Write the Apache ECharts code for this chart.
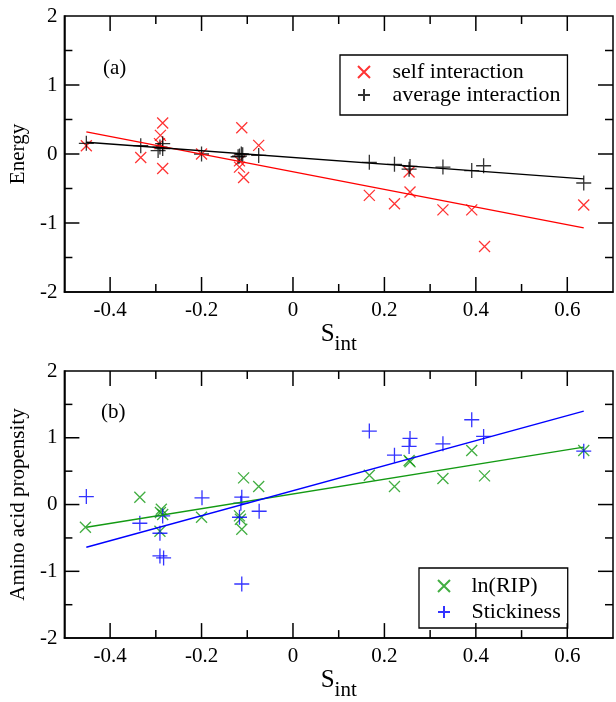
<!DOCTYPE html>
<html>
<head>
<meta charset="utf-8">
<script src="https://cdn.jsdelivr.net/npm/echarts@6/dist/echarts.min.js"></script>
<style>
  html, body { margin: 0; padding: 0; background: #fff; }
  #chart { width: 616px; height: 702px; }
</style>
</head>
<body>
<div id="chart"></div>
<script>
// panel (a): energies vs S_int
const selfX = [-0.452, -0.333, -0.285, -0.290, -0.292, -0.285, -0.200, -0.112, -0.117, -0.117, -0.108, -0.075,
  0.167, 0.222, 0.256, 0.254, 0.328, 0.391, 0.419, 0.636]
const selfY = [0.12, -0.05, 0.45, 0.27, 0.15, -0.21, 0.00, 0.38, -0.10, -0.19, -0.34, 0.125,
  -0.60, -0.72, -0.55, -0.26, -0.81, -0.81, -1.34, -0.74]
const avgX = [-0.452, -0.333, -0.291, -0.285, -0.295, -0.285, -0.200, -0.117, -0.110, -0.113, -0.120, -0.075,
  0.167, 0.222, 0.254, 0.256, 0.328, 0.391, 0.417, 0.636]
const avgY = [0.155, 0.12, 0.10, 0.15, 0.05, 0.08, 0.00, -0.03, -0.01, 0.00, -0.04, -0.02,
  -0.12, -0.15, -0.22, -0.18, -0.19, -0.24, -0.17, -0.42]

// panel (b): propensities vs S_int
const ripX = [-0.454, -0.335, -0.288, -0.285, -0.291, -0.290, -0.200, -0.108, -0.117, -0.112, -0.115, -0.075,
  0.167, 0.222, 0.256, 0.254, 0.328, 0.391, 0.419, 0.636]
const ripY = [-0.34, 0.11, -0.07, -0.15, -0.40, -0.12, -0.19, 0.40, -0.17, -0.37, -0.22, 0.27,
  0.44, 0.27, 0.64, 0.66, 0.39, 0.81, 0.43, 0.81]
const stickX = [-0.452, -0.335, -0.285, -0.291, -0.291, -0.283, -0.199, -0.112, -0.117, -0.114, -0.112, -0.074,
  0.167, 0.222, 0.256, 0.254, 0.328, 0.391, 0.417, 0.636]
const stickY = [0.12, -0.28, -0.17, -0.43, -0.77, -0.80, 0.10, 0.11, -0.19, 0.02, -1.19, -0.10,
  1.10, 0.74, 0.99, 0.87, 0.91, 1.27, 1.02, 0.80]

// fitted lines, end points
const fitX = [-0.452, 0.636]
const selfFit = [0.32, -1.07]
const avgFit = [0.17, -0.36]
const ripFit = [-0.34, 0.86]
const stickFit = [-0.64, 1.40]

// ticks
const xMajor = [-0.4, -0.2, 0, 0.2, 0.4, 0.6]
const xMinor = [-0.3, -0.1, 0.1, 0.3, 0.5]
const yMajor = [-1, 0, 1]
const yMinor = [-1.5, -0.5, 0.5, 1.5]

const X_MIN = -0.5, X_MAX = 0.7, Y_MIN = -2, Y_MAX = 2
const FONT = '"Liberation Serif", "DejaVu Serif", serif'
const CROSS = 'path://M0,0L10,10M10,0L0,10'
const PLUS = 'path://M5,0L5,10M0,5L10,5'
const TICK_W = 1.5

const pairs = (xs, ys) => xs.map((x, i) => [x, ys[i]])

// labels only on the even tenths
function xLabel(v) {
  const k = Math.round(v * 10)
  return k % 2 === 0 ? String(k / 10) : ''
}

function xAxis(gridIndex) {
  return {
    type: 'value', gridIndex: gridIndex,
    min: X_MIN, max: X_MAX, interval: 0.1,
    splitLine: {show: false},
    axisLine: {show: true, onZero: false, lineStyle: {color: '#000', width: 1.5}},
    axisTick: {show: false},
    axisLabel: {formatter: xLabel, margin: 8, color: '#000', fontSize: 21, fontFamily: FONT},
    name: '{s|S}{i|int}',
    nameLocation: 'middle',
    nameGap: 20,
    nameTextStyle: {
      rich: {
        s: {fontSize: 25, fontFamily: FONT, color: '#000'},
        i: {fontSize: 21, fontFamily: FONT, color: '#000', padding: [20, 0, 0, 0]}
      }
    }
  }
}

function yAxis(gridIndex, title) {
  return {
    type: 'value', gridIndex: gridIndex,
    min: Y_MIN, max: Y_MAX, interval: 0.5,
    splitLine: {show: false},
    axisLine: {show: true, onZero: false, lineStyle: {color: '#000', width: 1.5}},
    axisTick: {show: false},
    axisLabel: {formatter: v => (Number.isInteger(v) ? String(v) : ''), margin: 7, color: '#000', fontSize: 21, fontFamily: FONT},
    name: title,
    nameLocation: 'middle',
    nameGap: 35,
    nameTextStyle: {fontSize: 21, fontFamily: FONT, color: '#000'}
  }
}

// inward frame ticks: thin rect symbols sitting on the frame edge,
// positioned by the axis scales and shifted half their length inward
function ticks(grid, values, len, side) {
  const vertical = side === 'bottom' || side === 'top'
  let data, size, offset
  if (side === 'bottom') {
    data = values.map(v => [v, Y_MIN]); size = [TICK_W, len]; offset = [0, -len / 2]
  } else if (side === 'top') {
    data = values.map(v => [v, Y_MAX]); size = [TICK_W, len]; offset = [0, len / 2]
  } else if (side === 'left') {
    data = values.map(v => [X_MIN, v]); size = [len, TICK_W]; offset = [len / 2, 0]
  } else {
    data = values.map(v => [X_MAX, v]); size = [len, TICK_W]; offset = [-len / 2, 0]
  }
  return {
    type: 'scatter',
    xAxisIndex: grid,
    yAxisIndex: grid,
    symbol: 'rect',
    symbolSize: size,
    symbolOffset: offset,
    itemStyle: {color: '#000', opacity: 1},
    silent: true,
    clip: false,
    data: data
  }
}

function frameTicks(grid) {
  return [
    ticks(grid, xMajor, 15, 'bottom'), ticks(grid, xMinor, 8, 'bottom'),
    ticks(grid, xMajor, 15, 'top'), ticks(grid, xMinor, 8, 'top'),
    ticks(grid, yMajor, 15, 'left'), ticks(grid, yMinor, 8, 'left'),
    ticks(grid, yMajor, 15, 'right'), ticks(grid, yMinor, 8, 'right')
  ]
}

function scatter(name, grid, xs, ys, symbol, size, color) {
  return {
    name: name,
    type: 'scatter',
    xAxisIndex: grid,
    yAxisIndex: grid,
    symbol: symbol,
    symbolSize: size,
    itemStyle: {color: color, borderColor: color, borderWidth: 1.3},
    data: pairs(xs, ys)
  }
}

function fitLine(grid, ys, color) {
  return {
    type: 'line',
    xAxisIndex: grid,
    yAxisIndex: grid,
    symbol: 'none',
    lineStyle: {color: color, width: 1.4},
    data: pairs(fitX, ys)
  }
}

const RED = '#ff0000'
const BLACK = '#000000'
const GREEN = '#139a13'
const BLUE = '#0000ff'

const legendBase = {
  orient: 'vertical',
  itemHeight: 12,
  borderColor: '#000',
  borderWidth: 1.3,
  selectedMode: false,
  textStyle: {fontSize: 22, fontFamily: FONT, color: '#000', lineHeight: 22}
}

const chart = echarts.init(document.getElementById('chart'))
chart.setOption({
  animation: false,
  grid: [
    {left: 64, right: 1, top: 16, height: 276, show: true, borderColor: '#000', borderWidth: 1.5},
    {left: 64, right: 1, top: 371, height: 276, show: true, borderColor: '#000', borderWidth: 1.5}
  ],
  xAxis: [xAxis(0), xAxis(1)],
  yAxis: [yAxis(0, 'Energy'), yAxis(1, 'Amino acid propensity')],
  legend: [
    {
      ...legendBase,
      left: 340, top: 55,
      itemWidth: 47,
      padding: [6, 7, 9, 17],
      itemGap: 1,
      data: ['self interaction', 'average interaction']
    },
    {
      ...legendBase,
      left: 419, top: 568,
      itemWidth: 45,
      padding: [7, 7, 5, 18],
      itemGap: 4,
      data: ['ln(RIP)', 'Stickiness']
    }
  ],
  graphic: [
    {type: 'text', left: 103, top: 58, style: {text: '(a)', font: '21px ' + FONT, fill: '#000'}},
    {type: 'text', left: 101, top: 402, style: {text: '(b)', font: '21px ' + FONT, fill: '#000'}}
  ],
  series: [
    ...frameTicks(0),
    fitLine(0, selfFit, RED),
    fitLine(0, avgFit, BLACK),
    scatter('self interaction', 0, selfX, selfY, CROSS, 11, RED),
    scatter('average interaction', 0, avgX, avgY, PLUS, 15, BLACK),
    ...frameTicks(1),
    fitLine(1, ripFit, GREEN),
    fitLine(1, stickFit, BLUE),
    scatter('ln(RIP)', 1, ripX, ripY, CROSS, 11, GREEN),
    scatter('Stickiness', 1, stickX, stickY, PLUS, 15, BLUE)
  ]
})
</script>
</body>
</html>
